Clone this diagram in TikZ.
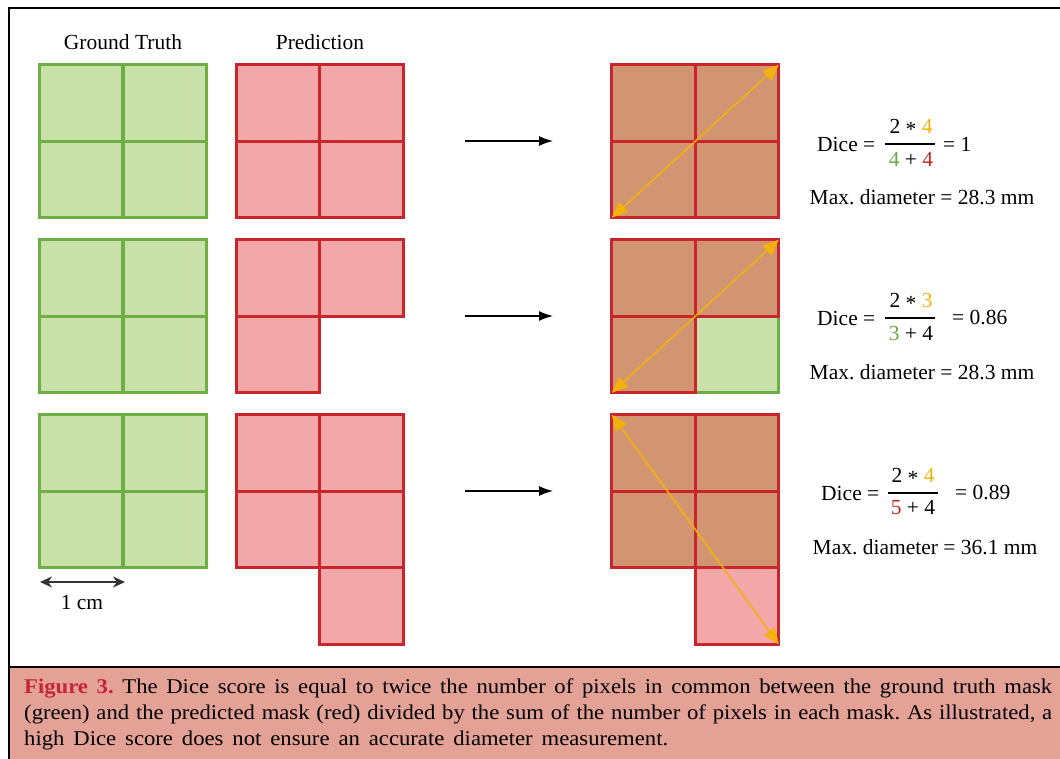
\documentclass[tikz,border=0pt]{standalone}
\usepackage{fontspec}
\setmainfont{Liberation Serif}
\newfontfamily\capfont[FakeStretch=1.08]{Liberation Serif}
\usetikzlibrary{arrows.meta}
\definecolor{gfill}{HTML}{C9E0A9}
\definecolor{gline}{HTML}{6DAE45}
\definecolor{rfill}{HTML}{F2A7A8}
\definecolor{rline}{HTML}{C8262C}
\definecolor{bfill}{HTML}{D19671}
\definecolor{ornge}{HTML}{F5B10A}
\definecolor{capfill}{HTML}{E4A195}
\definecolor{figred}{HTML}{C52538}
\definecolor{greennum}{HTML}{6AA842}
\definecolor{rednum}{HTML}{C8262C}
\tikzset{
  cellbox/.style={draw, line width=2.9pt, minimum width=83.5pt, minimum height=76.5pt, inner sep=0pt, outer sep=0pt},
  gcell/.style={cellbox, fill=gfill, draw=gline},
  rcell/.style={cellbox, fill=rfill, draw=rline},
  bcell/.style={cellbox, fill=bfill, draw=rline},
  lbl/.style={font=\fontsize{21.5}{24}\selectfont\frenchspacing, inner sep=0pt},
  maparrow/.style={line width=1.5pt, -{Latex[length=14pt,width=10pt]}},
  diamarrow/.style={draw=ornge, line width=1.5pt, {Triangle[length=16pt,width=13pt]}-{Triangle[length=16pt,width=13pt]}},
  scalearrow/.style={draw=black!80, line width=2pt, {Stealth[length=12pt,width=11pt]}-{Stealth[length=12pt,width=11pt]}},
  fracbar/.style={line width=1.1pt},
}
\newcommand{\myast}{\raisebox{-0.3ex}{*}}
\begin{document}
\begin{tikzpicture}[x=1pt,y=-1pt]
\useasboundingbox (0,0) rectangle (1060,759);
% frame
\draw[line width=2pt] (9,760) -- (9,8) -- (1062,8);
% titles
\node[lbl] (tgt) at (123,42) {Ground Truth};
\node[lbl] (tpr) at (320,42) {Prediction};
% ---------- Row 1 ----------
\node[gcell] (g1a) at (81,103) {};
\node[gcell] (g1b) at (165,103) {};
\node[gcell] (g1c) at (81,179.5) {};
\node[gcell] (g1d) at (165,179.5) {};
\node[rcell] (p1a) at (278,103) {};
\node[rcell] (p1b) at (361.5,103) {};
\node[rcell] (p1c) at (278,179.5) {};
\node[rcell] (p1d) at (361.5,179.5) {};
\node[bcell] (r1a) at (653.5,103) {};
\node[bcell] (r1b) at (737,103) {};
\node[bcell] (r1c) at (653.5,179.5) {};
\node[bcell] (r1d) at (737,179.5) {};
\coordinate (m1s) at (465,141);
\coordinate (m1e) at (553,141);
\draw[maparrow] (m1s) -- (m1e);
\draw[diamarrow] (r1c.south west) -- (r1b.north east);
% ---------- Row 2 ----------
\node[gcell] (g2a) at (81,278) {};
\node[gcell] (g2b) at (165,278) {};
\node[gcell] (g2c) at (81,354.5) {};
\node[gcell] (g2d) at (165,354.5) {};
\node[rcell] (p2a) at (278,278) {};
\node[rcell] (p2b) at (361.5,278) {};
\node[rcell] (p2c) at (278,354.5) {};
\node[gcell] (r2d) at (737,354.5) {};
\node[bcell] (r2a) at (653.5,278) {};
\node[bcell] (r2b) at (737,278) {};
\node[bcell] (r2c) at (653.5,354.5) {};
\coordinate (m2s) at (465,316);
\coordinate (m2e) at (553,316);
\draw[maparrow] (m2s) -- (m2e);
\draw[diamarrow] (r2c.south west) -- (r2b.north east);
% ---------- Row 3 ----------
\node[gcell] (g3a) at (81,453) {};
\node[gcell] (g3b) at (165,453) {};
\node[gcell] (g3c) at (81,529.5) {};
\node[gcell] (g3d) at (165,529.5) {};
\node[rcell] (p3a) at (278,453) {};
\node[rcell] (p3b) at (361.5,453) {};
\node[rcell] (p3c) at (278,529.5) {};
\node[rcell] (p3d) at (361.5,529.5) {};
\node[rcell] (p3e) at (361.5,606) {};
\node[bcell] (r3a) at (653.5,453) {};
\node[bcell] (r3b) at (737,453) {};
\node[bcell] (r3c) at (653.5,529.5) {};
\node[bcell] (r3d) at (737,529.5) {};
\node[rcell] (r3e) at (737,606) {};
\coordinate (m3s) at (465,491);
\coordinate (m3e) at (553,491);
\draw[maparrow] (m3s) -- (m3e);
\draw[diamarrow] (r3a.north west) -- (r3e.south east);
% scale
\coordinate (s1) at (40,582);
\coordinate (s2) at (125,582);
\draw[scalearrow] (s1) -- (s2);
\node[lbl] (scl) at (82,603) {1 cm};
% ---------- Dice formulas ----------
% row 1
\node[lbl, anchor=west] (d1) at (817,144) {Dice =};
\node[lbl] (n1) at (911,128) {2 \myast{} \textcolor{ornge}{4}};
\draw[fracbar] (885,144) -- (935,144);
\node[lbl] (q1) at (911,159) {\textcolor{greennum}{4} + \textcolor{rednum}{4}};
\node[lbl, anchor=west] (e1) at (943,144) {= 1};
\node[lbl] (x1) at (922,197) {Max. diameter = 28.3 mm};
% row 2
\node[lbl, anchor=west] (d2) at (817,318) {Dice =};
\node[lbl] (n2) at (911,302) {2 \myast{} \textcolor{ornge}{3}};
\draw[fracbar] (885,318) -- (935,318);
\node[lbl] (q2) at (911,333) {\textcolor{greennum}{3} + 4};
\node[lbl, anchor=west] (e2) at (952,318) {= 0.86};
\node[lbl] (x2) at (922,372) {Max. diameter = 28.3 mm};
% row 3
\node[lbl, anchor=west] (d3) at (821,493) {Dice =};
\node[lbl] (n3) at (913,477) {2 \myast{} \textcolor{ornge}{4}};
\draw[fracbar] (888,493) -- (938,493);
\node[lbl] (q3) at (913,508) {\textcolor{rednum}{5} + 4};
\node[lbl, anchor=west] (e3) at (955,493) {= 0.89};
\node[lbl] (x3) at (925,547) {Max. diameter = 36.1 mm};
% ---------- caption ----------
\fill[capfill] (9,667) rectangle (1062,762);
\draw[line width=1.5pt] (9,667) -- (1062,667);
\draw[line width=2pt] (9,667) -- (9,762);
\node[anchor=north west, inner sep=0pt, text width=1028pt, align=left,
      font=\capfont\fontsize{21}{26}\selectfont\frenchspacing] (cap) at (24,679)
{\spaceskip=0.25em plus 0.5em minus 0.13em
\makebox[1028pt][s]{\textcolor{figred}{\textbf{Figure 3.}} The Dice score is equal to twice the number of pixels in common between the ground truth mask}\\
\makebox[1028pt][s]{(green) and the predicted mask (red) divided by the sum of the number of pixels in each mask. As illustrated, a}\\
\makebox[644pt][s]{high Dice score does not ensure an accurate diameter measurement.}};
\end{tikzpicture}
\end{document}
